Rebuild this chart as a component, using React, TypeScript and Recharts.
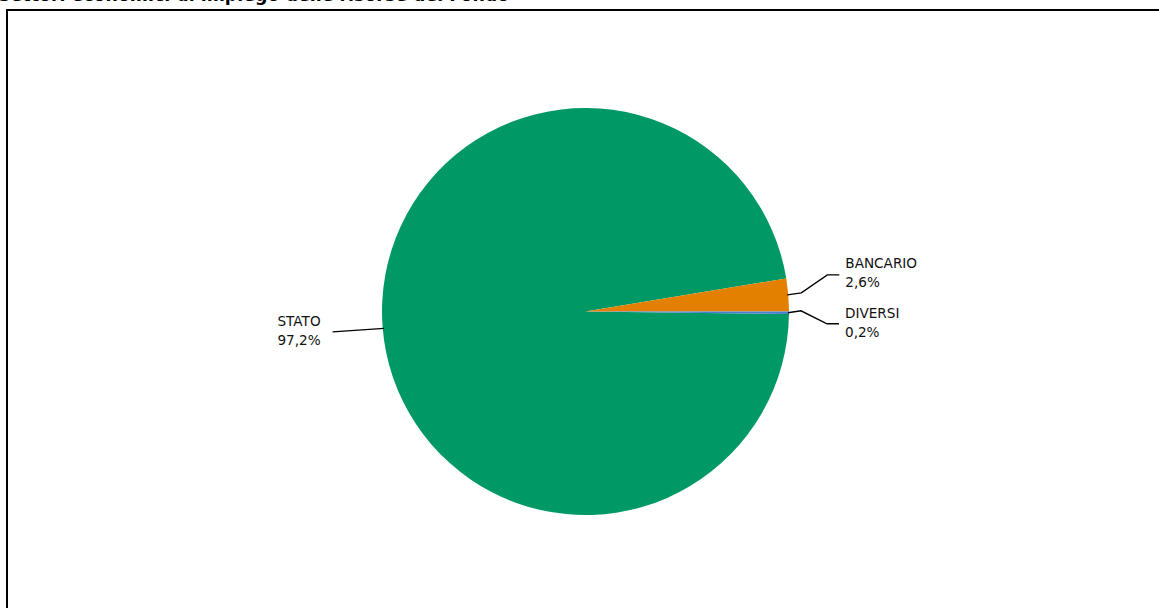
import { PieChart, Pie, Cell } from 'recharts'

const sectors = ['STATO', 'BANCARIO', 'DIVERSI']
const shares = [97.2, 2.6, 0.2]
const colors = ['#009966', '#E38000', '#4A7FD0']

const TITLE = 'Settori economici di impiego delle risorse del Fondo'
const FONT = '"DejaVu Sans", Verdana, sans-serif'
const RADIAN = Math.PI / 180

// leader-line layout per label, offsets from the slice edge point
const LABEL_LAYOUT: Record<string, { pts: [number, number][]; tx: number; ty: number; anchor: 'start' | 'end' }> = {
  STATO:    { pts: [[-50, 5]], tx: -62, ty: -1, anchor: 'end' },
  BANCARIO: { pts: [[13, -2], [39, -20], [51, -20]], tx: 57, ty: -27, anchor: 'start' },
  DIVERSI:  { pts: [[12, -2], [38, 11], [50, 11]], tx: 56, ty: 5, anchor: 'start' },
}

const data = sectors.map((name, i) => ({ name, value: shares[i] }))

function fmt(v: number) {
  return v.toFixed(1).replace('.', ',') + '%'
}

function renderLabel(props: any) {
  const { cx, cy, midAngle, outerRadius, name, value } = props
  const x0 = cx + outerRadius * Math.cos(-midAngle * RADIAN)
  const y0 = cy + outerRadius * Math.sin(-midAngle * RADIAN)
  const lay = LABEL_LAYOUT[name]
  const pts = [[x0 + (lay.anchor === 'end' ? 1.5 : -1), y0 + (lay.anchor === 'end' ? 1.5 : 0)], ...lay.pts.map(([dx, dy]) => [x0 + dx, y0 + dy])]
  const tx = x0 + lay.tx
  const ty = y0 + lay.ty
  return (
    <g key={name}>
      <polyline
        points={pts.map(p => p.join(',')).join(' ')}
        fill="none"
        stroke="#000"
        strokeWidth={1.4}
      />
      <text x={tx} y={ty} textAnchor={lay.anchor} fontFamily={FONT} fontSize={13.6} fill="#111">
        <tspan x={tx} dy={0}>{name}</tspan>
        <tspan x={tx} dy={19}>{fmt(value)}</tspan>
      </text>
    </g>
  )
}

export default function App() {
  // DIVERSI ends just below the 3 o'clock line, slices run clockwise
  const start = -(shares[2] / 100) * 360
  return (
    <div style={{ position: 'fixed', left: 0, top: 0, width: 1159, height: 608, overflow: 'hidden', background: '#fff' }}>
      <div style={{
        position: 'absolute', left: 6, top: 9, width: 1200, height: 700,
        border: '2px solid #000', boxSizing: 'border-box',
      }} />
      <svg width={1159} height={20} style={{ position: 'absolute', left: 0, top: 0 }}>
        <text x={-2} y={1} fontFamily={FONT} fontWeight={700} fontSize={17.4} fill="#000">{TITLE}</text>
      </svg>
      <div style={{ position: 'absolute', left: 0, top: 0 }}>
        <PieChart width={1159} height={608} margin={{ top: 0, right: 0, bottom: 0, left: 0 }}>
          <Pie
            data={data}
            dataKey="value"
            nameKey="name"
            cx={585.5}
            cy={311.5}
            outerRadius={203.5}
            startAngle={start}
            endAngle={start - 360}
            stroke="none"
            label={renderLabel}
            labelLine={false}
            isAnimationActive={false}
          >
            {data.map((d, i) => (
              <Cell key={d.name} fill={colors[i]} />
            ))}
          </Pie>
        </PieChart>
      </div>
    </div>
  )
}
